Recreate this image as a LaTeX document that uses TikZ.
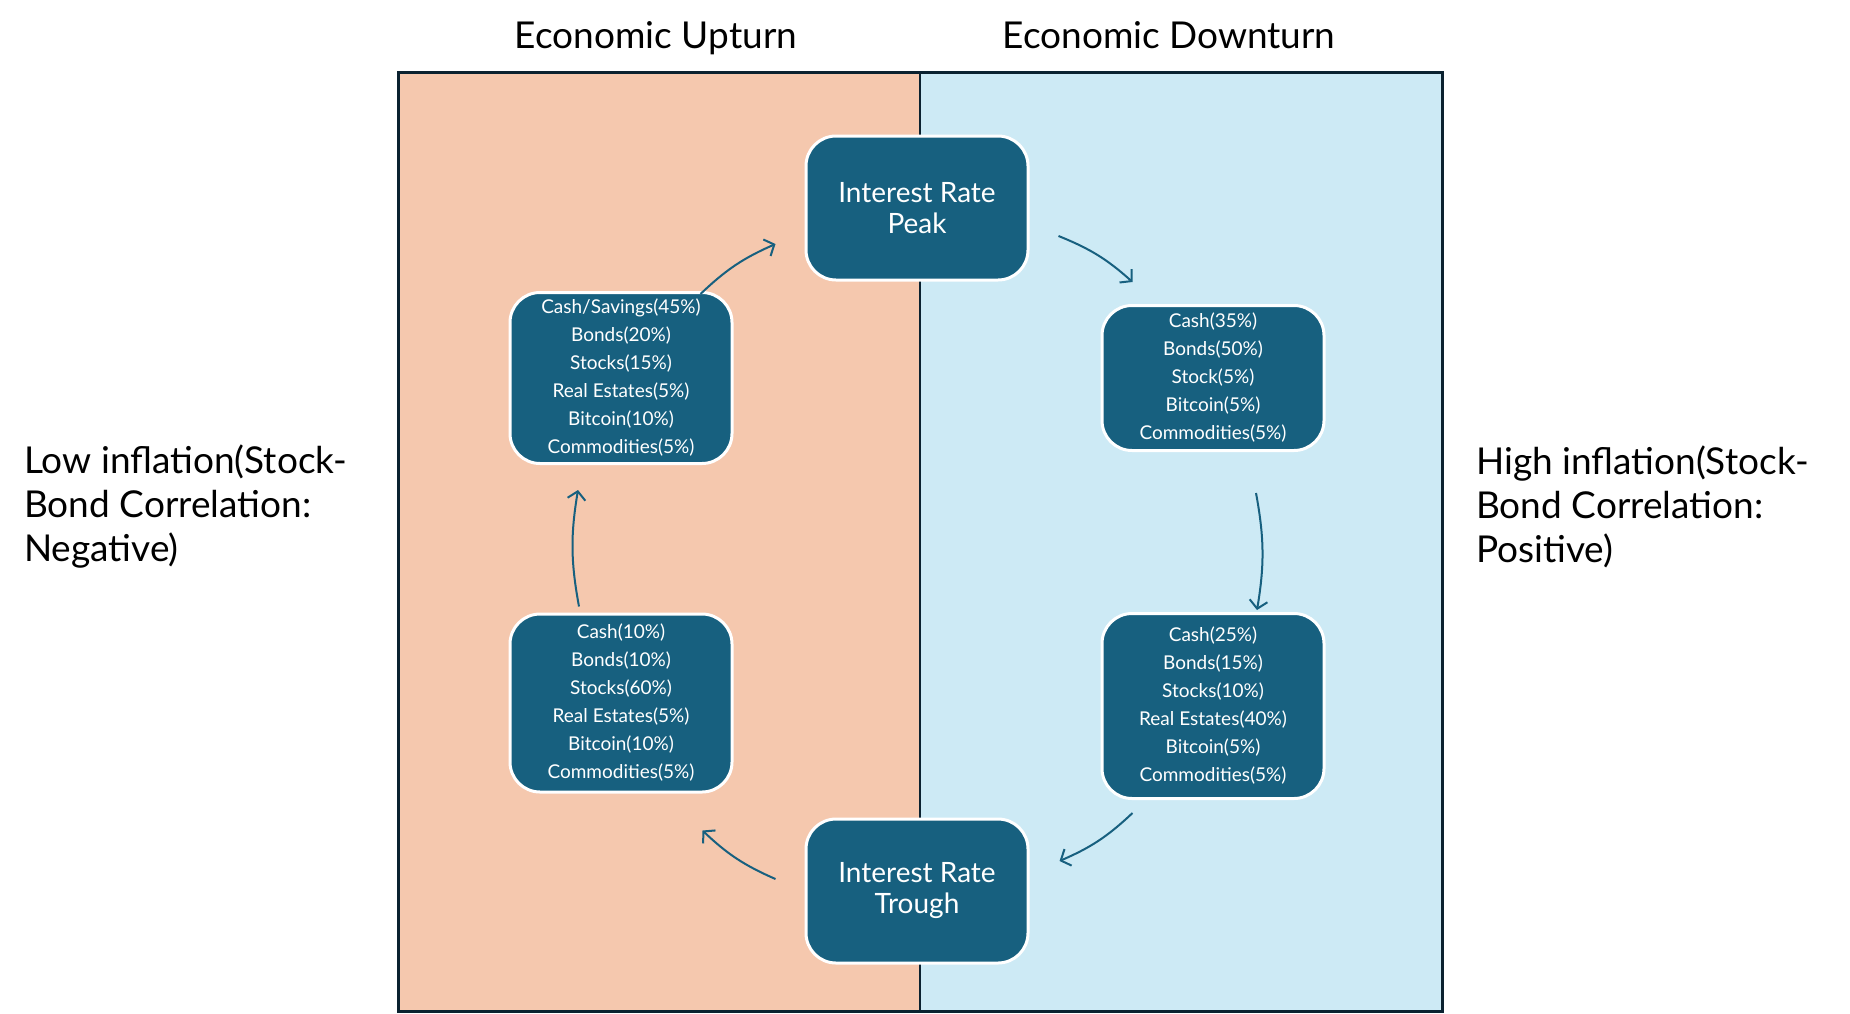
\documentclass[tikz,border=0pt]{standalone}
\usepackage{fontspec}
\setmainfont{Lato}
\usepackage{tikz}
\usetikzlibrary{arrows.meta,positioning,calc}
\definecolor{upturn}{HTML}{F5C8AE}
\definecolor{downturn}{HTML}{CDEAF5}
\definecolor{boxblue}{HTML}{17607F}
\definecolor{framedark}{HTML}{0B2230}
\tikzstyle{phase} = [rectangle, rounded corners=30pt, draw=white, line width=3pt, fill=boxblue, text=white, minimum width=222pt, minimum height=144pt, align=center, font=\fontsize{28}{31}\selectfont]
\tikzstyle{alloc} = [rectangle, rounded corners=30pt, draw=white, line width=3pt, fill=boxblue, text=white, minimum width=222pt, inner sep=0pt, align=center, font=\fontsize{19}{28}\selectfont]
\tikzstyle{arrow} = [-{Straight Barb[length=8pt,width=18pt]}, line width=2pt, draw=boxblue, bend left=10]
\tikzstyle{heading} = [font=\fontsize{37}{44}\selectfont, inner sep=0pt]

\begin{document}
\begin{tikzpicture}[x=1pt, y=-1pt]
\useasboundingbox (0,0) rectangle (1850,1013);
% two halves of the cycle
\fill[upturn] (398,72) rectangle (920,1011);
\fill[downturn] (920,72) rectangle (1442,1011);
\draw[framedark, line width=2.5pt] (920,72) -- (920,1011);
\draw[framedark, line width=3pt] (398,72) rectangle (1442,1011);

\node[heading, anchor=base] (uptitle) at (656,48) {Economic Upturn};
\node[heading, anchor=base] (downtitle) at (1169,48) {Economic Downturn};
\node[heading, anchor=west, align=left] (lowinfl) at (24,507) {Low inflation(Stock-\\Bond Correlation:\\Negative)};
\node[heading, anchor=west, align=left] (highinfl) at (1476,507) {High inflation(Stock-\\Bond Correlation:\\Positive)};

\node[phase] (peak) at (917,208) {Interest Rate\\Peak};
\node[phase] (trough) at (917,891) {Interest Rate\\Trough};
\node[alloc, minimum height=171pt] (tl) at (621,378) {Cash/Savings(45\%)\\Bonds(20\%)\\Stocks(15\%)\\Real Estates(5\%)\\Bitcoin(10\%)\\Commodities(5\%)};
\node[alloc, minimum height=145pt] (tr) at (1213,378) {Cash(35\%)\\Bonds(50\%)\\Stock(5\%)\\Bitcoin(5\%)\\Commodities(5\%)};
\node[alloc, minimum height=185pt] (br) at (1213,706) {Cash(25\%)\\Bonds(15\%)\\Stocks(10\%)\\Real Estates(40\%)\\Bitcoin(5\%)\\Commodities(5\%)};
\node[alloc, minimum height=178pt] (bl) at (621,703) {Cash(10\%)\\Bonds(10\%)\\Stocks(60\%)\\Real Estates(5\%)\\Bitcoin(10\%)\\Commodities(5\%)};

\draw[arrow] ($(tl.north east)+(-33,3)$) to ($(peak.west)+(-29,36)$);
\draw[arrow] ($(peak.east)+(29,28)$) to ($(tr.north west)+(32,-22)$);
\draw[arrow] ($(tr.south)+(43,41)$) to ($(br.north)+(44,-2)$);
\draw[arrow] ($(br.south west)+(32,13)$) to ($(trough.east)+(30,-30)$);
\draw[arrow] ($(trough.west)+(-29,-12)$) to ($(bl.south east)+(-31,37)$);
\draw[arrow] ($(bl.north)+(-42,-6)$) to ($(tl.south)+(-43,25)$);
\end{tikzpicture}
\end{document}
